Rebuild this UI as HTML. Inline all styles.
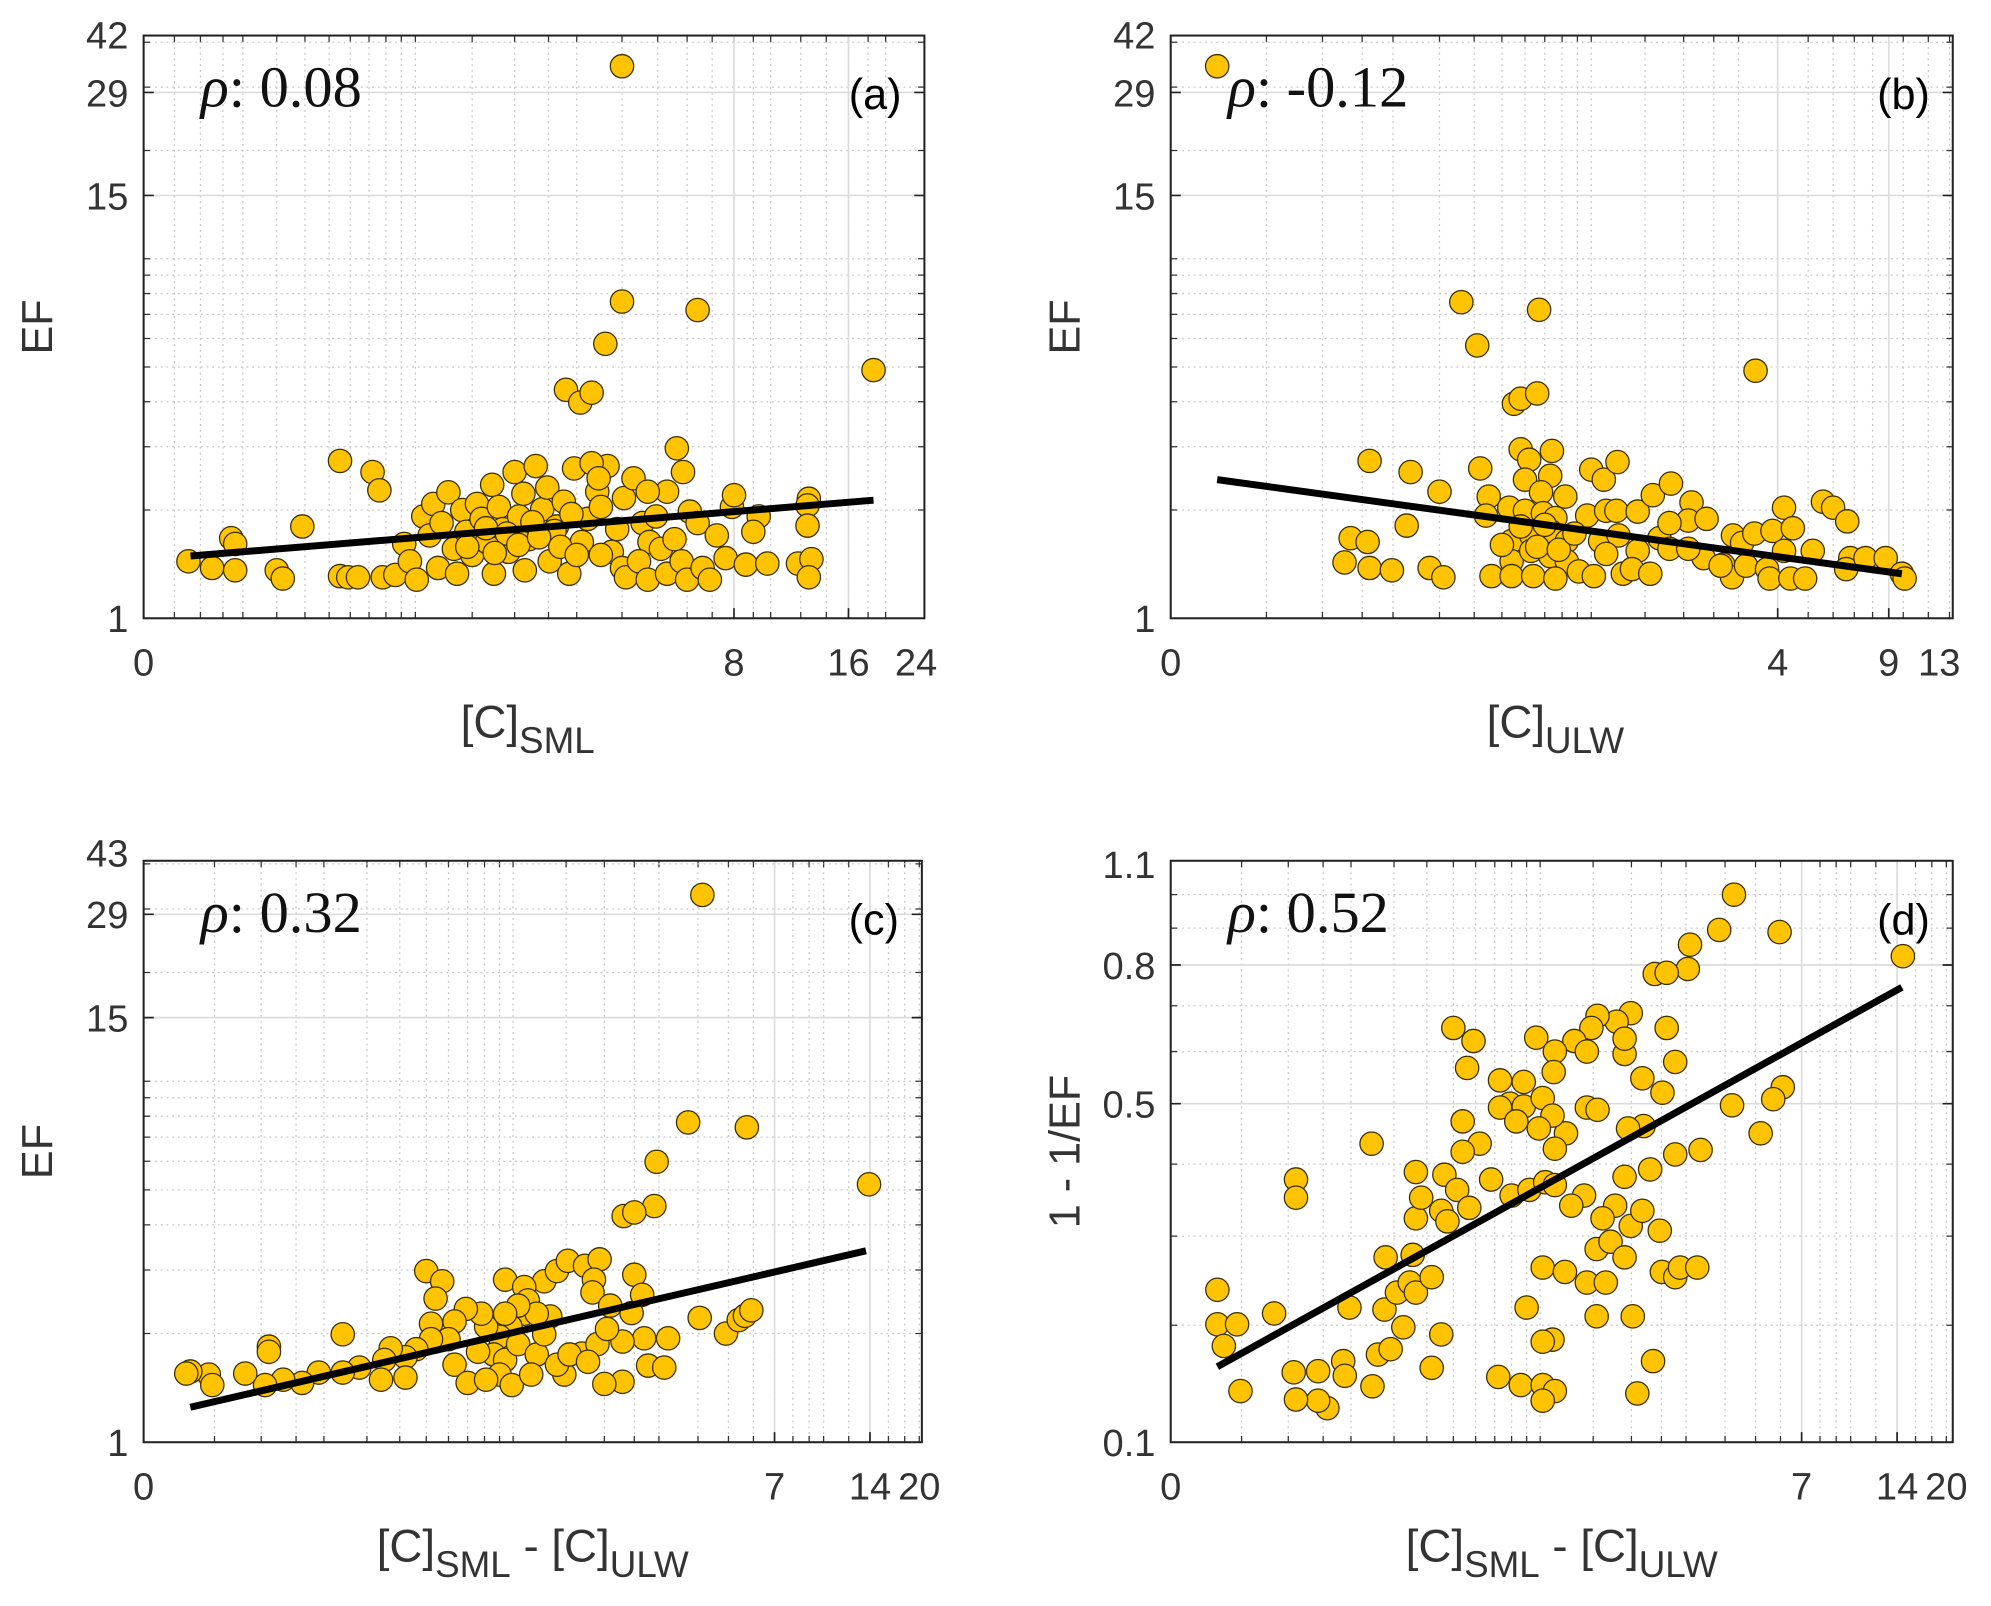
<!DOCTYPE html>
<html><head><meta charset="utf-8">
<style>
html,body{margin:0;padding:0;background:#fff;}
svg{display:block;}
</style></head>
<body>
<svg id="fig" width="1991" height="1606" viewBox="0 0 1568 1265" xmlns="http://www.w3.org/2000/svg" font-family="Liberation Sans, sans-serif"></svg>
<script>
// ---------- Panel (a) data ----------
const aX = [0.076,0.125,0.17,0.18,0.18,0.30,0.32,0.39,0.55,0.55,0.59,0.64,0.72,0.76,0.78,0.86,0.92,0.96,1.01,1.06,1.11,1.14,1.18,1.21,1.27,1.32,1.35,1.40,1.44,1.50,1.55,1.60,1.66,1.72,1.74,1.80,1.85,1.92,2.0,2.06,2.12,2.14,2.2,2.3,2.4,2.48,2.52,2.64,2.76,2.86,2.95,3.1,3.22,3.42,3.5,3.65,3.88,4.05,4.3,4.55,4.75,4.95,5.3,5.63,5.85,6.1,2.8,3.07,3.3,3.6,4.0,4.0,6.4,18.6,3.3,3.45,3.75,4.0,4.1,4.45,4.7,5.1,5.3,5.55,5.8,6.0,6.4,6.6,6.9,7.2,7.6,7.9,8.6,9.3,9.8,11.8,12.6,12.8,12.6,12.5,12.5,8.0,9.0,3.5,4.7,1.65,1.9,2.25,2.6,2.9,1.45,1.75,2.05,2.35,2.7,3.0];
const aY = [1.44,1.38,1.67,1.61,1.36,1.36,1.29,1.80,1.31,2.74,1.30,1.30,2.55,2.27,1.30,1.32,1.61,1.44,1.28,1.92,1.70,2.08,1.38,1.84,2.24,1.56,1.33,2.0,1.74,1.50,2.08,1.89,1.63,2.35,1.33,2.04,1.77,1.53,2.55,1.92,2.22,1.36,1.66,2.65,2.01,2.31,1.44,1.80,2.11,1.33,2.61,1.63,1.89,2.25,2.04,2.65,1.77,2.16,2.45,1.84,1.63,1.92,2.25,2.97,2.55,1.98,4.32,3.98,4.24,5.8,7.6,34.3,7.2,4.9,2.7,2.45,1.53,1.38,1.30,1.44,1.28,1.56,1.33,1.66,1.44,1.28,1.84,1.38,1.28,1.70,1.47,2.04,1.41,1.92,1.42,1.42,2.15,1.46,1.30,2.06,1.81,2.2,1.74,1.50,2.25,1.78,1.72,1.85,1.75,1.95,1.58,1.52,1.60,1.68,1.58,1.50];
const aFitX = [0.08,18.6];
const aFitY = [1.49,2.13];
// ---------- Panel (b) data ----------
const bX = [0.020,0.36,0.67,0.41,0.55,0.58,0.66,3.4,0.161,0.234,0.30,0.226,0.134,0.158,0.126,0.161,0.198,0.276,0.31,0.46,0.42,0.45,0.58,0.62,0.74,0.73,0.60,0.68,0.82,0.53,0.44,0.60,0.69,0.76,0.54,0.63,0.73,0.83,0.54,0.63,0.73,0.83,0.54,0.64,0.76,0.91,1.02,1.0,1.10,1.22,0.97,1.12,1.21,1.42,1.07,1.23,1.42,1.12,1.27,1.36,1.56,1.59,1.82,1.67,1.80,2.12,2.07,2.37,2.32,2.68,2.88,2.86,3.08,3.37,3.17,3.85,3.70,3.77,4.19,4.47,4.19,4.39,4.89,5.17,5.57,6.0,6.65,6.8,6.6,7.6,8.8,9.9,10.1,2.07,2.63,1.80,0.58,0.66,0.78,0.88,0.50,0.70];
const bY = [34.3,7.57,7.21,5.74,3.95,4.08,4.22,4.88,2.74,2.55,2.25,1.81,1.67,1.63,1.43,1.38,1.36,1.38,1.30,1.31,2.61,2.18,2.95,2.76,2.92,2.49,2.43,2.24,2.18,2.03,1.93,1.99,1.96,1.90,1.64,1.70,1.75,1.64,1.44,1.54,1.49,1.44,1.31,1.31,1.29,1.35,1.31,2.59,2.43,2.72,1.93,1.99,1.99,1.98,1.64,1.70,1.54,1.51,1.33,1.37,1.33,2.20,2.37,1.67,1.56,2.10,1.87,1.89,1.47,1.41,1.70,1.30,1.62,1.72,1.40,1.75,1.37,1.29,2.03,1.78,1.54,1.29,1.29,1.54,2.11,2.03,1.86,1.47,1.37,1.47,1.47,1.33,1.29,1.56,1.40,1.84,1.80,1.58,1.55,1.72,1.60,1.82];
const bFitX = [0.020,9.9];
const bFitY = [2.43,1.33];
// ---------- Panel (c) data ----------
const cX = [4.13,3.72,5.72,2.95,13.9,2.9,2.31,2.50,0.50,0.57,0.54,0.94,1.27,1.40,1.52,1.73,1.93,1.85,1.83,2.5,2.65,2.45,2.09,4.05,4.91,5.39,5.64,5.91,2.69,3.21,2.77,3.12,2.29,2.0,2.29,1.69,1.48,1.9,1.33,1.09,1.12,1.09,0.98,0.90,0.81,0.78,0.69,0.63,0.60,0.63,0.70,0.52,0.52,0.46,0.42,0.37,0.35,0.34,0.42,0.28,0.24,0.24,0.19,0.16,0.13,0.105,0.11,0.11,0.081,0.045,0.048,0.030,0.027,0.86,0.94,1.04,1.2,1.27,1.4,1.54,1.77,0.90,0.99,1.15,0.76,0.81,1.2,1.04,0.94,2.04];
const cY = [32.8,7.69,7.45,5.98,5.18,4.51,4.23,4.33,2.98,2.79,2.50,2.82,2.79,2.98,3.18,3.08,3.21,2.82,2.60,2.91,2.56,2.28,2.39,2.21,2.0,2.18,2.24,2.32,1.94,1.94,1.63,1.61,1.47,1.45,1.90,1.76,1.54,1.87,2.23,2.69,2.47,2.27,2.09,1.96,2.09,2.27,2.34,2.16,1.93,1.64,1.46,2.13,1.93,1.81,1.72,1.82,1.69,1.49,1.51,1.61,1.56,1.99,1.56,1.46,1.49,1.44,1.84,1.78,1.55,1.54,1.44,1.57,1.55,1.75,1.69,1.87,1.75,1.99,1.64,1.75,1.67,1.54,1.44,1.54,1.78,1.49,2.27,2.39,2.27,2.06];
const cFitX = [0.030,13.6];
const cFitY = [1.25,3.39];
// ---------- Panel (d) data ----------
const dX = [4.27,3.83,5.96,14.6,3.09,3.04,2.38,2.60,2.60,2.77,2.17,2.52,1.99,1.79,1.55,1.48,1.30,1.43,1.90,1.90,0.97,1.12,1.11,0.50,0.59,0.56,4.21,6.10,5.69,5.19,3.34,2.77,2.19,1.95,1.43,1.55,1.22,0.73,0.88,0.79,0.88,1.02,1.10,0.73,0.83,0.99,0.54,0.62,0.54,0.464,0.516,0.68,0.80,0.92,1.04,1.12,0.452,0.364,0.381,0.476,0.57,0.364,0.244,0.11,0.11,0.030,0.030,0.046,0.035,0.083,0.049,0.107,0.142,0.157,0.142,0.11,0.185,0.188,0.197,0.246,0.259,0.291,0.275,0.308,0.278,0.345,0.364,0.354,0.417,0.452,0.417,0.326,0.72,0.86,1.02,1.12,1.02,0.90,1.02,1.21,1.43,1.65,1.10,1.02,1.54,2.02,2.09,2.35,1.54,1.71,1.77,1.99,2.17,1.90,2.47,2.51,2.77,2.87,3.26,2.30,1.90,1.12,1.40,1.27,1.61];
const dY = [1.0,0.895,0.889,0.823,0.854,0.79,0.777,0.78,0.65,0.579,0.547,0.52,0.683,0.664,0.677,0.65,0.622,0.60,0.595,0.627,0.629,0.60,0.559,0.65,0.622,0.567,0.497,0.53,0.508,0.449,0.422,0.415,0.461,0.457,0.493,0.489,0.449,0.543,0.540,0.50,0.495,0.51,0.479,0.493,0.469,0.457,0.469,0.432,0.419,0.384,0.362,0.377,0.354,0.362,0.373,0.424,0.333,0.323,0.351,0.319,0.337,0.388,0.432,0.377,0.351,0.237,0.201,0.201,0.180,0.212,0.140,0.156,0.157,0.126,0.132,0.133,0.166,0.153,0.218,0.144,0.172,0.177,0.216,0.234,0.274,0.245,0.234,0.277,0.251,0.191,0.160,0.198,0.152,0.145,0.145,0.140,0.132,0.218,0.262,0.257,0.245,0.245,0.186,0.184,0.209,0.209,0.138,0.166,0.284,0.293,0.340,0.313,0.333,0.274,0.307,0.257,0.251,0.262,0.262,0.392,0.381,0.369,0.354,0.340,0.323];
const dFitX = [0.030,14.5];
const dFitY = [0.161,0.744];
// ---------- tick labels ----------
const aXTicks = [0,8,16,24];
const bXTicks = [0,4,9,13];
const cdXTicks = [0,7,14,20];
const abYTicks = [1,15,29,42];
const cYTicks = [1,15,29,43];
const dYTicks = [0.1,0.5,0.8,1.1];
const xMinorVals = [0.05,0.1,0.15,0.2,0.3,0.4,0.5,0.6,0.7,0.8,0.9,1,1.5,2,2.5,3,4,5,6,7,8,9,10,12,14,16,18,20];
const efMinorVals = [2,3,4,5,6,7,8,9,10,20,30,40];
const dMinorVals = [0.2,0.3,0.4,0.6,0.7,0.9,1.0];

const NS = "http://www.w3.org/2000/svg";
const svg = document.getElementById('fig');
function mk(tag, attrs, parent){
  const e = document.createElementNS(NS, tag);
  for (const k in attrs) e.setAttribute(k, attrs[k]);
  (parent||svg).appendChild(e);
  return e;
}
function makeX(L, a, k){ return v => L + k*Math.log(1 + v/a); }
function makeEF(B, k){ return v => B - k*Math.log(v); }
function makeD(B){ return v => B - 297*Math.log((v+0.175)/0.275); }

const panels = [
 {id:'a', L:113,R:728,T:28,B:487, x:makeX(113,0.25,133), y:makeEF(487,123), xs:aX, ys:aY, fx:aFitX, fy:aFitY, xt:aXTicks, xSolid:[8,16], yt:abYTicks, ySolid:[15,29], yMinor:efMinorVals, rho:'0.08', lab:'(a)', xtitle:['[C]','SML'], ytitle:'EF'},
 {id:'b', L:922,R:1538,T:28,B:487, x:makeX(922,0.05,108.8), y:makeEF(487,123), xs:bX, ys:bY, fx:bFitX, fy:bFitY, xt:bXTicks, xSolid:[4,9], yt:abYTicks, ySolid:[15,29], yMinor:efMinorVals, rho:'-0.12', lab:'(b)', xtitle:['[C]','ULW'], ytitle:'EF'},
 {id:'c', L:113,R:726,T:678,B:1136, x:makeX(113,0.075,109.3), y:makeEF(1136,123.5), xs:cX, ys:cY, fx:cFitX, fy:cFitY, xt:cdXTicks, xSolid:[7,14], yt:cYTicks, ySolid:[15,29], yMinor:efMinorVals, rho:'0.32', lab:'(c)', xtitle:['[C]','SML',' - [C]','ULW'], ytitle:'EF'},
 {id:'d', L:922,R:1538,T:678,B:1136, x:makeX(922,0.075,109.3), y:makeD(1136), xs:dX, ys:dY, fx:dFitX, fy:dFitY, xt:cdXTicks, xSolid:[7,14], yt:dYTicks, ySolid:[0.5,0.8], yMinor:dMinorVals, rho:'0.52', lab:'(d)', xtitle:['[C]','SML',' - [C]','ULW'], ytitle:'1 - 1/EF'}
];

panels.forEach(p => {
  const g = mk('g', {});
  
  
  const clipId = 'clip' + p.id;
  const cp = mk('clipPath', {id: clipId}, g);
  mk('rect', {x:p.L, y:p.T, width:p.R-p.L, height:p.B-p.T}, cp);
  const grid = mk('g', {'clip-path':'url(#'+clipId+')'}, g);
  
  
  xMinorVals.forEach(v => {
    const X = p.x(v);
    if (X > p.L+2 && X < p.R-2) {
      mk('line', {x1:X, x2:X, y1:p.T, y2:p.B, stroke:'#c8c8c8', 'stroke-width':1, 'stroke-dasharray':'1.5,3'}, grid);
      mk('line', {x1:X, x2:X, y1:p.B, y2:p.B-5, stroke:'#333', 'stroke-width':1}, grid);
      mk('line', {x1:X, x2:X, y1:p.T, y2:p.T+5, stroke:'#333', 'stroke-width':1}, grid);
    }
  });
  p.yMinor.forEach(v => {
    const Y = p.y(v);
    if (Y > p.T+2 && Y < p.B-2) {
      mk('line', {x1:p.L, x2:p.R, y1:Y, y2:Y, stroke:'#c8c8c8', 'stroke-width':1, 'stroke-dasharray':'1.5,3'}, grid);
      mk('line', {x1:p.L, x2:p.L+5, y1:Y, y2:Y, stroke:'#333', 'stroke-width':1}, grid);
      mk('line', {x1:p.R-5, x2:p.R, y1:Y, y2:Y, stroke:'#333', 'stroke-width':1}, grid);
    }
  });
  p.xSolid.forEach(v => {
    const X = p.x(v);
    mk('line', {x1:X, x2:X, y1:p.T, y2:p.B, stroke:'#dcdcdc', 'stroke-width':1.3}, grid);
    mk('line', {x1:X, x2:X, y1:p.B, y2:p.B-8, stroke:'#222', 'stroke-width':1.3}, grid);
  });
  p.ySolid.forEach(v => {
    const Y = p.y(v);
    mk('line', {x1:p.L, x2:p.R, y1:Y, y2:Y, stroke:'#dcdcdc', 'stroke-width':1.3}, grid);
    mk('line', {x1:p.L, x2:p.L+8, y1:Y, y2:Y, stroke:'#222', 'stroke-width':1.3}, grid);
    mk('line', {x1:p.R-8, x2:p.R, y1:Y, y2:Y, stroke:'#222', 'stroke-width':1.3}, grid);
  });
  const pts = mk('g', {'clip-path':'url(#'+clipId+')'}, g);
  
  
  p.xs.forEach((xv, i) => {
    const c = mk('circle', {cx:p.x(xv), cy:p.y(p.ys[i]), r:9.2, fill:'#FFC300', stroke:'#3a3000', 'stroke-width':1}, pts);
    
    
  });
  const fl = mk('line', {x1:p.x(p.fx[0]), y1:p.y(p.fy[0]), x2:p.x(p.fx[1]), y2:p.y(p.fy[1]), stroke:'#000', 'stroke-width':5.5, 'stroke-linecap':'butt'}, g);
  
  
  const box = mk('rect', {x:p.L, y:p.T, width:p.R-p.L, height:p.B-p.T, fill:'none', stroke:'#222', 'stroke-width':1.6}, g);
  
  
  p.xt.forEach(v => {
    const t = mk('text', {x:p.x(v), y:p.B+45, 'text-anchor':'middle', 'font-size':30, fill:'#333'}, g);
    t.textContent = String(v);
    
    
  });
  p.yt.forEach(v => {
    const t = mk('text', {x:p.L-12, y:p.y(v)+11, 'text-anchor':'end', 'font-size':30, fill:'#333'}, g);
    t.textContent = String(v);
    
    
  });
  const rt = mk('text', {x:p.L+45, y:p.T+56, 'font-size':46, fill:'#111', style:'font-family:"Liberation Serif",serif'}, g);
  
  
  const r1 = mk('tspan', {'font-style':'italic'}, rt); r1.textContent = 'ρ';
  const r2 = mk('tspan', {}, rt); r2.textContent = ':  ' + p.rho;
  const pl = mk('text', {x:p.R-18, y:p.T+58, 'text-anchor':'end', 'font-size':34, fill:'#000'}, g);
  pl.textContent = p.lab;
  
  
  const cx = (p.L + p.R)/2 - (p.xtitle.length > 2 ? 0 : 5);
  const xt = mk('text', {x:cx, y:p.B+94, 'text-anchor':'middle', 'font-size':36, fill:'#333'}, g);
  
  
  p.xtitle.forEach((s, i) => {
    const ts = mk('tspan', i % 2 === 1 ? {'font-size':29, dy:12} : (i > 0 ? {dy:-12} : {}), xt);
    ts.textContent = s;
  });
  const yc = (p.T + p.B)/2;
  const yx = p.L - 72;
  const yt = mk('text', {x:yx, y:yc, 'text-anchor':'middle', 'font-size':34, fill:'#333', transform:'rotate(-90 '+yx+' '+yc+')'}, g);
  yt.textContent = p.ytitle;
  
  
});
</script>
</body></html>
